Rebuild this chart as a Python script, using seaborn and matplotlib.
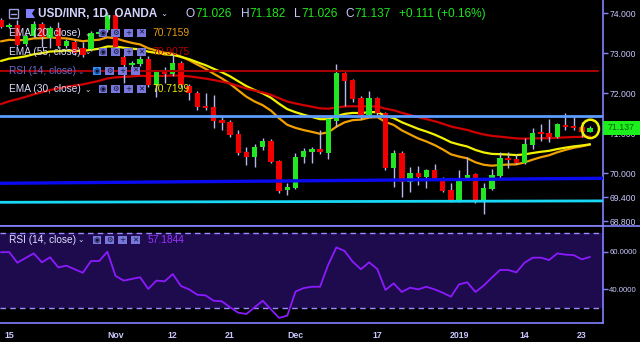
import numpy as np
import pandas as pd
import matplotlib
matplotlib.use("Agg")
import matplotlib.pyplot as plt
import seaborn as sns
from matplotlib.patches import Rectangle, Ellipse, Polygon
from matplotlib.lines import Line2D

# ---------------- data ----------------
bar_index = list(range(73))
opens = [73.83, 73.66, 73.71, 73.23, 73.43, 73.73, 73.38, 73.63, 73.18, 73.28,
         73.13, 73.11, 73.48, 73.58, 73.96, 72.91, 72.71, 72.73, 72.86, 72.21,
         72.53, 72.48, 72.76, 72.18, 72.01, 71.68, 71.66, 71.33, 71.28, 70.98,
         70.53, 70.41, 70.66, 70.81, 70.31, 69.58, 69.63, 70.41, 70.53, 70.61,
         70.51, 71.31, 72.51, 72.33, 71.88, 71.46, 71.88, 71.51, 70.13, 70.51,
         69.78, 70.01, 69.91, 70.08, 69.88, 69.58, 69.31, 69.88, 69.98, 69.33,
         69.61, 69.93, 70.38, 70.36, 70.26, 70.71, 71.01, 71.01, 70.91, 71.21,
         71.18, 71.16, 71.026]
closes = [73.66, 73.71, 73.21, 73.43, 73.73, 73.41, 73.63, 73.18, 73.31, 73.01,
          72.96, 73.51, 73.51, 73.96, 73.16, 72.71, 72.76, 72.86, 72.21, 72.53,
          72.48, 72.76, 72.21, 72.01, 71.66, 71.63, 71.31, 71.26, 70.96, 70.51,
          70.41, 70.66, 70.81, 70.28, 69.56, 69.66, 70.41, 70.56, 70.61, 70.53,
          71.36, 72.51, 72.31, 71.86, 71.46, 71.88, 71.51, 70.13, 70.51, 69.78,
          70.01, 69.91, 70.08, 69.86, 69.56, 69.31, 69.88, 69.96, 69.33, 69.63,
          69.96, 70.38, 70.33, 70.26, 70.73, 71.01, 70.98, 70.91, 71.23, 71.16,
          71.13, 71.03, 71.137]
highs = [73.88, 73.76, 73.83, 73.48, 73.80, 73.78, 73.68, 73.78, 73.36, 73.33,
         73.28, 73.56, 73.58, 74.02, 74.00, 72.98, 72.82, 72.92, 72.92, 72.58,
         72.66, 73.01, 72.80, 72.22, 72.06, 72.01, 71.96, 71.43, 71.33, 71.08,
         70.66, 70.73, 70.88, 70.86, 70.34, 69.76, 70.51, 70.63, 70.66, 71.08,
         71.38, 72.73, 72.53, 72.36, 71.92, 72.06, 71.91, 71.54, 70.58, 70.56,
         70.16, 70.18, 70.11, 70.23, 69.91, 69.76, 70.08, 70.41, 70.01, 69.76,
         70.11, 70.53, 70.53, 70.48, 70.88, 71.13, 71.23, 71.36, 71.26, 71.51,
         71.41, 71.28, 71.182]
lows = [73.62, 73.62, 73.18, 73.18, 73.40, 73.16, 73.13, 73.13, 73.13, 72.96,
        72.91, 73.06, 73.43, 73.53, 72.98, 72.26, 72.66, 72.68, 72.16, 71.91,
        72.26, 72.43, 72.16, 71.83, 71.58, 71.58, 71.13, 71.08, 70.91, 70.46,
        70.21, 70.16, 70.58, 70.26, 69.52, 69.46, 69.61, 70.26, 70.26, 70.48,
        70.36, 71.16, 71.68, 71.78, 71.36, 71.43, 71.41, 70.08, 69.66, 69.41,
        69.53, 69.71, 69.63, 69.83, 69.53, 69.28, 69.28, 69.85, 69.26, 68.98,
        69.58, 69.88, 70.13, 70.23, 70.23, 70.61, 70.81, 70.78, 70.88, 71.08,
        71.08, 70.91, 71.026]
rsi_values = [59.7, 59.8, 54.1, 56.6, 59.1, 54.3, 57.0, 51.6, 52.5, 50.6,
              48.7, 55.0, 55.0, 60.0, 47.0, 44.5, 45.4, 46.3, 40.0, 44.5,
              44.1, 48.0, 41.6, 39.8, 36.9, 36.6, 33.7, 33.4, 30.2, 27.3,
              26.6, 30.2, 33.7, 29.1, 24.5, 25.7, 38.6, 40.5, 41.2, 41.2,
              53.0, 62.3, 60.4, 54.6, 50.6, 54.3, 50.7, 39.5, 43.0, 38.4,
              40.7, 39.8, 41.2, 39.8, 38.0, 35.9, 42.5, 43.6, 38.4, 41.8,
              46.1, 50.2, 50.2, 48.9, 54.1, 56.8, 56.8, 55.5, 59.1, 58.4,
              58.2, 55.9, 57.18]
# EMA values just before the first visible bar
ema_spans = [20, 30, 55]
ema_start = [73.26, 72.75, 71.66]
ema_labels = ["EMA (20, close)", "EMA (55, close)", "RSI (14, close)", "EMA (30, close)"]
ema_last = ["70.7159", "70.9075", "", "70.7199"]
rsi_last = "57.1844"
# drawn horizontal / trend lines: (start price, end price)
line_red = [72.55, 72.55]
line_lightblue = [71.44, 71.44]
line_blue = [69.75, 69.875]
line_cyan = [69.275, 69.31]
xtick_pos = [1, 14, 21, 28, 36, 46, 56, 64, 71]
xtick_lab = ["15", "Nov", "12", "21", "Dec", "17", "2019", "14", "23"]
price_ticks = [68.8, 69.4, 70.0, 71.0, 72.0, 73.0, 74.0]
rsi_ticks = [40, 60]

# ---------------- styling ----------------
sns.set_theme(style="dark", rc={"axes.facecolor": "black", "figure.facecolor": "black",
                                "axes.grid": False})
plt.rcParams["font.family"] = ["Liberation Sans", "DejaVu Sans"]

W, H = 640, 342
fig = plt.figure(figsize=(W / 100, H / 100), dpi=100)
AXC = "#8282ff"
TXT = "#c8c8ff"
UP, DN, WICK = "#22e622", "#f20000", "#b4b8ec"

def fx(x):
    return x / W

def fy(y):
    return 1 - y / H

ax = fig.add_axes([0, fy(226), 603 / W, 226 / H])
ax2 = fig.add_axes([0, fy(323), 603 / W, 97 / H])
x0, x1 = -0.122, 73.59
for a in (ax, ax2):
    a.set_facecolor("black")
    a.set_xlim(x0, x1)
    for s in ("top", "left"):
        a.spines[s].set_visible(False)
    a.spines["right"].set_color(AXC)
    a.spines["bottom"].set_color(AXC)
    a.spines["right"].set_linewidth(1.2)
    a.spines["bottom"].set_linewidth(1.2)
ax.set_ylim(68.6825, 74.3325)
ax2.set_ylim(21.77, 73.78)

df = pd.DataFrame({"bar": bar_index, "open": opens, "high": highs, "low": lows,
                   "close": closes, "rsi": rsi_values})

# EMA lines
ema_cols = {20: "#f0a000", 30: "#f2f200", 55: "#d00000"}
for span, seed in zip(ema_spans, ema_start):
    s = pd.Series([seed] + closes).ewm(span=span, adjust=False).mean().iloc[1:].values
    df[f"ema{span}"] = s
    sns.lineplot(data=df, x="bar", y=f"ema{span}", ax=ax, color=ema_cols[span],
                 linewidth=1.6, legend=False, zorder=2)

# candles
colors = [UP if c >= o else DN for o, c in zip(opens, closes)]
ax.vlines(df["bar"], df["low"], df["high"], color=WICK, linewidth=1.0, zorder=3)
bottoms = np.minimum(df["open"], df["close"])
heights = np.maximum(np.abs(df["close"] - df["open"]), 0.045)
ax.bar(df["bar"], heights, bottom=bottoms, width=0.66, color=colors, linewidth=0, zorder=4)

# drawn lines
ax.plot([x0, 72.95], line_red, color="#a80000", linewidth=1.5, zorder=5)
ax.plot([x0, x1], line_lightblue, color="#5c9cff", linewidth=2.0, zorder=5)
ax.plot([x0, x1], line_blue, color="#0a0af0", linewidth=2.4, zorder=5)
ax.plot([x0, x1], line_cyan, color="#18d8f5", linewidth=2.0, zorder=5)

# yellow circle around last candle
ax.add_patch(Ellipse((72.05, 71.11), 2.1, 0.46, fill=False, edgecolor="#f2f200",
                     linewidth=1.8, zorder=6))

# axes ticks
ax.set_xticks([])
ax.yaxis.tick_right()
ax.set_yticks(price_ticks)
ax.set_yticklabels([f"{v:.3f}" for v in price_ticks])
ax.tick_params(axis="y", colors=AXC, labelcolor=TXT, labelsize=6.2, length=3.5,
               width=1, pad=1.5, direction="out")
ax.set_xlabel("")
ax.set_ylabel("")

# RSI pane
ax2.axhspan(30, 70, color="#1e0b4d", zorder=0, linewidth=0)
ax2.axhline(70, color="#9a8cff", linewidth=1.0, dashes=(4, 3), zorder=1)
ax2.axhline(30, color="#9a8cff", linewidth=1.0, dashes=(4, 3), zorder=1)
sns.lineplot(data=df, x="bar", y="rsi", ax=ax2, color="#8c1aff", linewidth=1.3,
             legend=False, zorder=2)
ax2.yaxis.tick_right()
ax2.set_yticks(rsi_ticks)
ax2.set_yticklabels([f"{v:.4f}" for v in rsi_ticks])
ax2.set_xticks(xtick_pos)
ax2.set_xticklabels(xtick_lab, fontweight="bold")
ax2.tick_params(axis="x", colors=AXC, labelcolor=TXT, labelsize=6.3, length=3.5,
                width=1, pad=2, direction="out")
ax2.tick_params(axis="y", colors=AXC, labelcolor=TXT, labelsize=5.6, length=3.5,
                width=1, pad=1, direction="out")
ax2.set_xlabel("")
ax2.set_ylabel("")

# separator across full width
fig.add_artist(Line2D([0, 1], [fy(226), fy(226)], transform=fig.transFigure,
                      color=AXC, linewidth=1.2))

def ftext(x, y, s, **kw):
    kw.setdefault("va", "center")
    kw.setdefault("ha", "left")
    fig.text(fx(x), fy(y), s, **kw)

def fbox(xa, ya, w, h, color, z=5):
    fig.add_artist(Rectangle((fx(xa), fy(ya + h)), w / W, h / H, transform=fig.transFigure,
                             facecolor=color, edgecolor="none", zorder=z))

# current price label
fbox(603, 121, 37, 14, "#1cf01c")
ftext(621.5, 128, "71.137", ha="center", color="#0a5f0a", fontsize=6.3, zorder=7)

# header
fig.add_artist(Rectangle((fx(8.5), fy(18)), 9 / W, 9 / H, transform=fig.transFigure,
                         facecolor="none", edgecolor="#a0a0e0", linewidth=1.0, zorder=6))
fig.add_artist(Line2D([fx(10.5), fx(15.5)], [fy(13.5), fy(13.5)], transform=fig.transFigure,
                      color="#a0a0e0", linewidth=1.0, zorder=6))
fig.add_artist(Polygon([(fx(26), fy(9)), (fx(35), fy(9)), (fx(32), fy(13.5)),
                        (fx(35), fy(18)), (fx(26), fy(18))], closed=True,
                       transform=fig.transFigure, facecolor="#8080ff", edgecolor="none", zorder=6))
ftext(38, 14, "USD/INR, 1D, OANDA", color="#d4d4ff", fontsize=8.5, fontweight="bold")
ftext(160, 14, "⌄", color="#d4d4ff", fontsize=6, family=["DejaVu Sans"])
G = "#1ee61e"
hdr = [(186, "O", TXT), (195.2, "71.026", G), (240.7, "H", TXT), (249.5, "71.182", G),
       (294, "L", TXT), (301, "71.026", G), (345.7, "C", TXT), (354.5, "71.137", G),
       (399, "+0.111 (+0.16%)", G)]
for xx, s, c in hdr:
    ftext(xx, 14, s, color=c, fontsize=8.6)

# legend rows
rows_y = [33, 52, 71, 89]
val_cols = ["#e89a10", "#b80000", None, "#ecec00"]
label_cols = ["#dcdcff", "#dcdcff", "#6a6ad0", "#dcdcff"]
glyphs = ["◉", "⚙", "+", "✕"]

def icons(xstart, yc, first_col="#7878dc"):
    for k, g in enumerate(glyphs):
        bx = xstart + k * 12.7
        fbox(bx, yc - 4.2, 8.7, 8.4, first_col if k == 0 else "#7878dc", z=6)
        ftext(bx + 4.35, yc, g, ha="center", color="#101030", fontsize=5.2,
              family=["DejaVu Sans"], zorder=7)

for lab, yv, vc, lc, vv in zip(ema_labels, rows_y, val_cols, label_cols, ema_last):
    ftext(9, yv, lab, color=lc, fontsize=7.3, zorder=7)
    if vv:
        ftext(84, yv, "⌄", color=lc, fontsize=5.5, family=["DejaVu Sans"], zorder=7)
        icons(98.7, yv)
        ftext(152.7, yv, vv, color=vc, fontsize=7.4, zorder=7)
    else:
        ftext(77, yv, "⌄", color=lc, fontsize=5.5, family=["DejaVu Sans"], zorder=7)
        icons(92.7, yv, first_col="#2f8fff")

# RSI legend
ftext(9, 240, "RSI (14, close)", color="#dcdcff", fontsize=7.3, zorder=7)
ftext(77, 240, "⌄", color="#dcdcff", fontsize=5.5, family=["DejaVu Sans"], zorder=7)
icons(92.7, 240)
ftext(147.7, 240, rsi_last, color="#9b30ff", fontsize=7.4, zorder=7)

fig.savefig("out.png", dpi=100, facecolor="black")
